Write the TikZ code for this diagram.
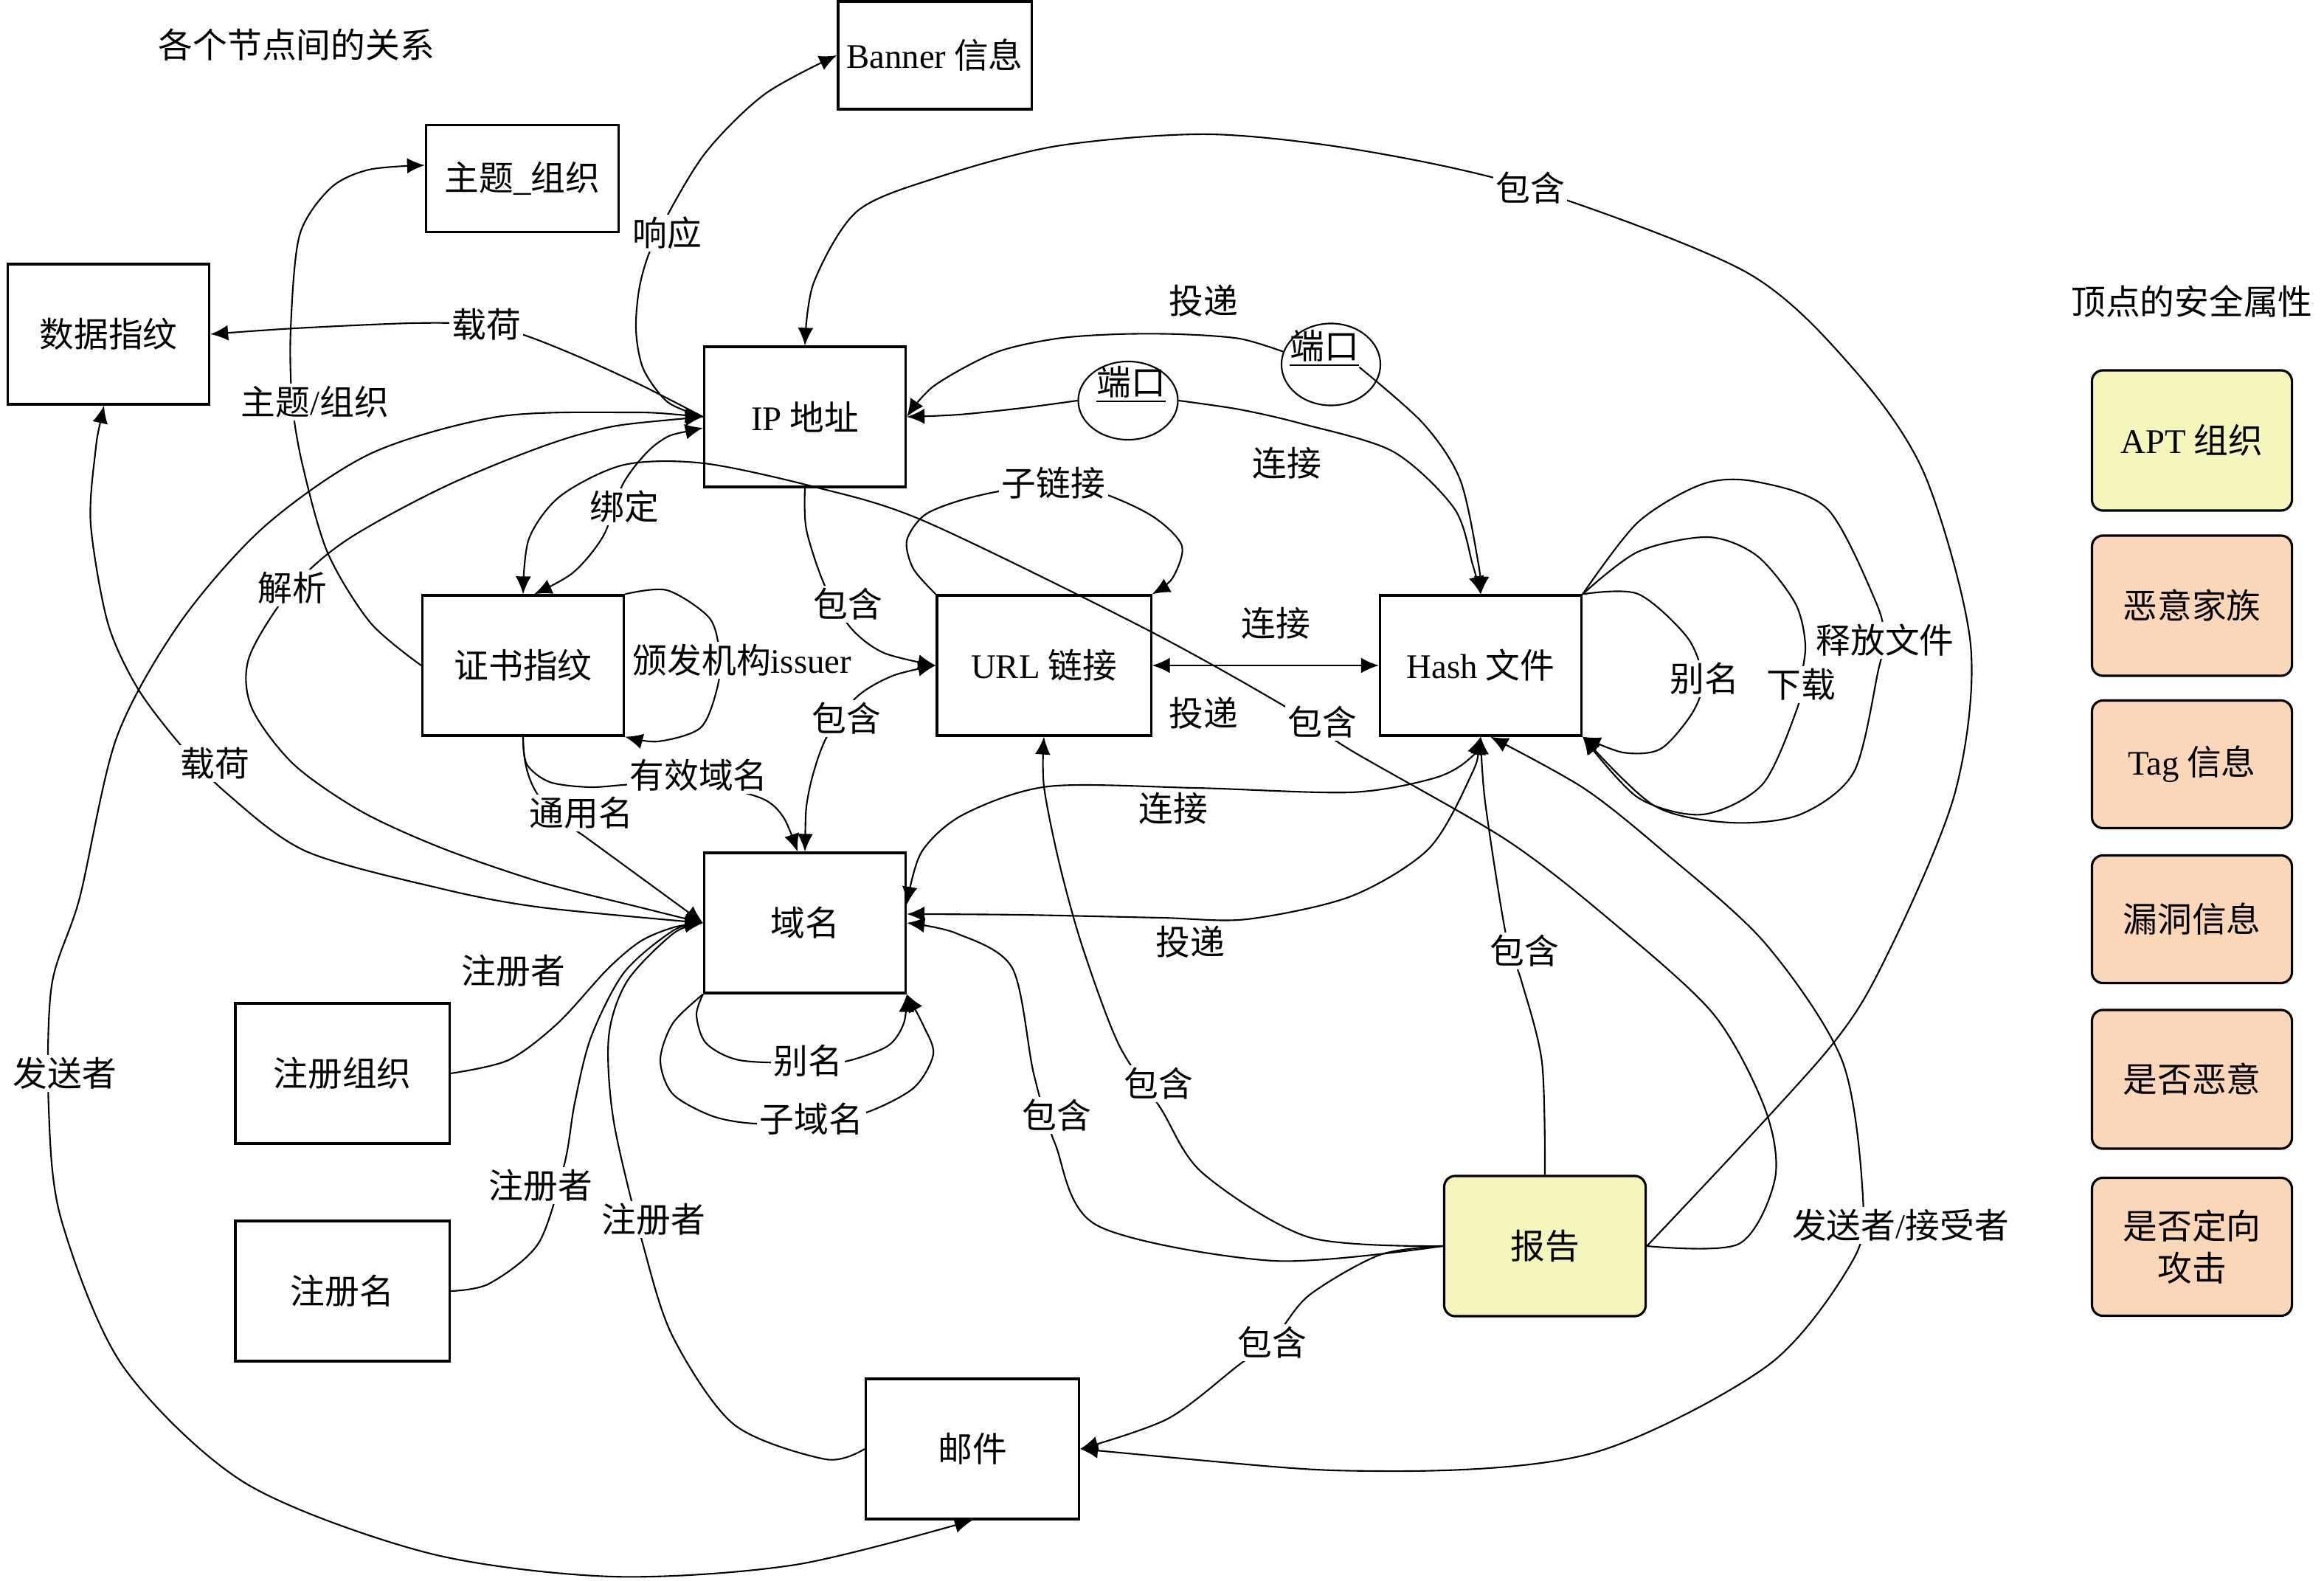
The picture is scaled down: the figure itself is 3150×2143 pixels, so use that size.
\documentclass[tikz,border=0pt]{standalone}
\usepackage{fontspec}
\setmainfont{Noto Sans CJK SC}
\newfontfamily\latin{Liberation Serif}
\newcommand{\en}[1]{{\latin #1}}
\usetikzlibrary{arrows.meta,shapes.geometric}
\definecolor{aptyellow}{RGB}{245,246,187}
\definecolor{attrpeach}{RGB}{250,215,185}

\begin{document}
\begin{tikzpicture}[x=0.01cm, y=-0.01cm, font=\fontsize{13.3}{16}\selectfont]
\tikzset{ >={Latex[length=2.4mm,width=2.1mm]},
  box/.style={draw, line width=0.9pt, minimum width=2.73cm, minimum height=1.9cm, inner sep=2pt},
  attr/.style={draw, line width=0.9pt, rounded corners=1.5mm, minimum width=2.71cm, align=center},
  port/.style={draw, ellipse, line width=0.6pt, inner sep=0pt},
  lbl/.style={fill=white, inner sep=1pt},
  link/.style={line width=0.6pt},
}

\useasboundingbox (0,0) rectangle (3150,2143);

%\draw [lightgray, dashed] (0,0) grid[step=100] (3150,2143);

\node (ttl) at (402,61) {各个节点间的关系};

% vertices
\node [box] (data) at (147,453) {数据指纹};
\node [box, minimum width=2.62cm, minimum height=1.46cm] (banner) at (1267,75) {\en{Banner} 信息};
\node [box, minimum width=2.61cm, minimum height=1.45cm] (topic) at (708,242) {主题\en{\_}组织};
\node [box] (ip) at (1091,565) {\en{IP} 地址};
\node [box] (cert) at (709,902) {证书指纹};
\node [box, minimum width=2.9cm] (url) at (1415,902) {\en{URL} 链接};
\node [box] (hash) at (2007,902) {\en{Hash} 文件};
\node [box] (dom) at (1091,1251) {域名};
\node [box, minimum width=2.9cm] (regorg) at (464,1455) {注册组织};
\node [box, minimum width=2.9cm] (regname) at (464,1750) {注册名};
\node [box, minimum width=2.89cm] (mail) at (1318,1964) {邮件};
\node [box, rounded corners=1.5mm, fill=aptyellow] (rpt) at (2094,1689) {报告};

\node [port, minimum width=1.35cm, minimum height=1.06cm] (p1) at (1529,543) {};
\node [port, minimum width=1.34cm, minimum height=1.11cm] (p2) at (1804,494) {};
\node [inner sep=0pt] (p1t) at (1533,521) {\underline{端口}};
\node [inner sep=0pt] (p2t) at (1795,472) {\underline{端口}};

% security attributes
\node (legttl) at (2971,409) {顶点的安全属性};
\node [attr, fill=aptyellow, minimum height=1.9cm] (apt) at (2971,597) {\en{APT} 组织};
\node [attr, fill=attrpeach, minimum height=1.9cm] (fam) at (2971,821) {恶意家族};
\node [attr, fill=attrpeach, minimum height=1.73cm] (tag) at (2971,1036) {\en{Tag} 信息};
\node [attr, fill=attrpeach, minimum height=1.73cm] (vul) at (2971,1246) {漏洞信息};
\node [attr, fill=attrpeach, minimum height=1.88cm] (mal) at (2971,1463) {是否恶意};
\node [attr, fill=attrpeach, minimum height=1.87cm] (tgt) at (2971,1690) {是否定向\\攻击};

% relations
\draw [link, ->] plot [smooth] coordinates {(ip.west) (905,545) (872,500) (862,446) (868,383) (890,320) (954,210) (1036,128) (banner.west)};
\draw [link, ->] plot [smooth] coordinates {(cert.west) (502,844) (444,749) (410,630) (396,545) (394,446) (406,319) (448,255) (500,230) ([yshift=0.18cm]topic.west)};
\draw [link, ->] plot [smooth] coordinates {(ip.west) (871,523) (788,485) (713,455) (655,440) (560,438) (400,445) (data.east)};
\draw [link, <->] plot [smooth] coordinates {([yshift=-0.15cm]ip.west) (892,600) (846,653) (818,726) (777,776) ([xshift=0.15cm]cert.north)};
\draw [link, ->] plot [smooth] coordinates {(rpt.east) (2357,1686) (2406,1597) (2392,1502) (2322,1374) (2181,1246) (2041,1138) (1831,1017) (1739,956) (1550,851) (1252,706) (1104,660) (954,628) (846,630) (760,672) (717,730) (cert.north)};
\draw [link, ->] plot [smooth] coordinates {(cert.north east) (904,800) (961,837) (975,883) (973,929) (950,986) (892,1005) (cert.south east)};
\draw [link, ->] plot [smooth] coordinates {(cert.south) (714,1036) (745,1060) (800,1067) (860,1063) (950,1062) (1032,1082) (1062,1108) ([xshift=-0.1cm]dom.north)};
\draw [link, ->] (cert.south) .. controls (709,1070) and (740,1100) .. (790,1132) -- (dom.west);
\draw [link, ->] plot [smooth] coordinates {(ip.south) (1093,718) (1118,794) (1154,852) (1198,885) (url.west)};
\draw [link, <->] plot [smooth] coordinates {(dom.north) (1096,1075) (1119,1002) (1161,945) (1210,916) (url.west)};
\draw [link, ->] plot [smooth] coordinates {(url.north west) (1238,771) (1229,733) (1252,699) (1296,680) (1354,666) (1428,657) (1498,670) (1564,701) (1602,740) (1589,784) (url.north east)};
\draw [link, <->] (url.east) -- (hash.west);

\draw [link, ->] plot [smooth] coordinates {(p1.west) (1386,553) (1300,562) (ip.east)};
\draw [link, ->] plot [smooth] coordinates {(p1.east) (1680,555) (1763,574) (1888,612) (1971,689) (1996,765) (hash.north)};
\draw [link, ->] plot [smooth] coordinates {(p2.165) (1680,459) (1598,453) (1515,453) (1432,459) (1349,478) (1266,523) (ip.east)};
\draw [link, ->] plot [smooth] coordinates {(p2t.south east) (1929,574) (1979,650) (2004,765) (hash.north)};

\draw [link, ->] plot [smooth] coordinates {(rpt.east) (2476,1425) (2560,1290) (2650,1074) (2671,874) (2609,644) (2513,501) (2367,369) (2074,255) (1846,204) (1639,182) (1432,198) (1266,242) (1161,287) (1103,383) (ip.north)};

\draw [link, ->] plot [smooth] coordinates {(hash.north east) (2220,805) (2287,864) (2308,921) (2294,966) (2251,1015) (2200,1020) (hash.south east)};
\draw [link, ->] plot [smooth] coordinates {(hash.north east) (2220,748) (2315,728) (2381,753) (2433,817) (2447,874) (2440,926) (2436,960) (2389,1063) (2308,1104) (2220,1081) (hash.south east)};
\draw [link, ->] plot [smooth] coordinates {(hash.north east) (2220,708) (2308,656) (2381,653) (2477,690) (2543,817) (2554,868) (2546,908) (2513,1046) (2440,1104) (2345,1115) (2242,1092) (hash.south east)};

\draw [link, <->] plot [smooth] coordinates {(mail.east) (1870,1994) (2157,1970) (2396,1851) (2511,1709) (2525,1623) (2497,1438) (2392,1278) (2251,1151) (2146,1068) ([xshift=0.13cm]hash.south)};
\draw [link, ->] plot [smooth] coordinates {(rpt.north) (2090,1440) (2062,1329) (2041,1266) (2013,1087) (hash.south)};
\draw [link, <->] plot [smooth] coordinates {(hash.south) (1990,1030) (1943,1055) (1831,1074) (1620,1068) (1421,1066) (1306,1104) (1249,1155) ([yshift=0.25cm]dom.east)};
\draw [link, <->] plot [smooth] coordinates {(hash.south) (1992,1055) (1936,1151) (1831,1215) (1690,1246) (1574,1244) (1383,1240) ([yshift=0.12cm]dom.east)};

\draw [link, ->] plot [smooth] coordinates {(rpt.west) (1726,1709) (1487,1661) (1430,1550) (1401,1455) (1372,1312) (1296,1265) (dom.east)};
\draw [link, ->] plot [smooth] coordinates {(rpt.west) (1774,1677) (1630,1590) (1573,1502) (1516,1415) (1467,1283) (1436,1171) (1415,1066) (url.south)};
\draw [link, ->] plot [smooth] coordinates {(rpt.west) (1870,1701) (1774,1756) (1726,1815) (1678,1851) (1583,1923) (mail.east)};

\draw [link, <->] plot [smooth] coordinates {(ip.west) (846,559) (674,565) (502,615) (358,714) (244,844) (158,1000) (108,1217) (70,1336) (66,1502) (83,1653) (166,1851) (332,2010) (580,2105) (829,2137) (1078,2121) (mail.south)};
\draw [link, <->] plot [smooth] coordinates {(ip.west) (789,588) (617,653) (473,730) (396,797) (338,890) (341,959) (398,1036) (490,1100) (600,1150) (734,1196) (868,1230) (dom.west)};
\draw [link, <->] plot [smooth] coordinates {([xshift=-0.06cm]data.south) (129,615) (123,711) (146,844) (186,932) (244,1009) (307,1075) (415,1154) (600,1205) (734,1230) (dom.west)};

\draw [link, ->] plot [smooth] coordinates {(regorg.east) (689,1437) (756,1387) (823,1314) (868,1276) (913,1257) (dom.west)};
\draw [link, ->] plot [smooth] coordinates {(regname.east) (663,1740) (730,1685) (765,1578) (779,1495) (801,1406) (846,1318) (913,1261) (dom.west)};
\draw [link, ->] plot [smooth] coordinates {(mail.west) (1119,1978) (995,1931) (912,1812) (871,1685) (832,1521) (825,1406) (850,1330) (913,1265) (dom.west)};

\draw [link, ->] plot [smooth] coordinates {(dom.south west) (944,1376) (957,1414) (1002,1437) (1091,1441) (1145,1439) (1203,1418) (1225,1387) (dom.south east)};
\draw [link, ->] plot [smooth] coordinates {(dom.south west) (912,1387) (895,1437) (912,1483) (966,1513) (1024,1523) (1098,1519) (1171,1509) (1238,1475) (1265,1429) (1252,1391) (dom.south east)};

% labels
\node [lbl] (a1) at (904,316) {响应};
\node [lbl] (a2) at (659,440) {载荷};
\node [lbl] (a3) at (427,545) {主题\en{/}组织};
\node [lbl] (a4) at (846,687) {绑定};
\node [lbl] (a5) at (396,797) {解析};
\node [lbl] (a6) at (1006,895) {颁发机构\en{issuer}};
\node [lbl] (a7) at (1149,819) {包含};
\node [lbl] (a8) at (1147,974) {包含};
\node [lbl] (a9) at (1428,655) {子链接};
\node [lbl] (a10) at (1631,408) {投递};
\node [lbl] (a11) at (1744,628) {连接};
\node [lbl] (a12) at (1729,845) {连接};
\node [lbl] (a13) at (1631,967) {投递};
\node [lbl] (a14) at (1792,979) {包含};
\node [lbl] (a15) at (2310,920) {别名};
\node [lbl] (a16) at (2441,928) {下载};
\node [lbl] (a17) at (2555,868) {释放文件};
\node [lbl] (a18) at (2074,255) {包含};
\node [lbl] (a19) at (291,1035) {载荷};
\node [lbl] (a20) at (947,1051) {有效域名};
\node [lbl] (a21) at (788,1102) {通用名};
\node [lbl] (a22) at (1590,1096) {连接};
\node [lbl] (a23) at (1613,1277) {投递};
\node [lbl] (a24) at (2066,1289) {包含};
\node [lbl] (a25) at (1570,1469) {包含};
\node [lbl] (a26) at (1432,1512) {包含};
\node [lbl] (a27) at (1724,1820) {包含};
\node [lbl] (a28) at (2576,1661) {发送者\en{/}接受者};
\node [lbl] (a29) at (696,1316) {注册者};
\node [lbl] (a30) at (733,1607) {注册者};
\node [lbl] (a31) at (886,1653) {注册者};
\node [lbl] (a32) at (88,1455) {发送者};
\node [lbl] (a33) at (1095,1438) {别名};
\node [lbl] (a34) at (1100,1517) {子域名};

\end{tikzpicture}
\end{document}
